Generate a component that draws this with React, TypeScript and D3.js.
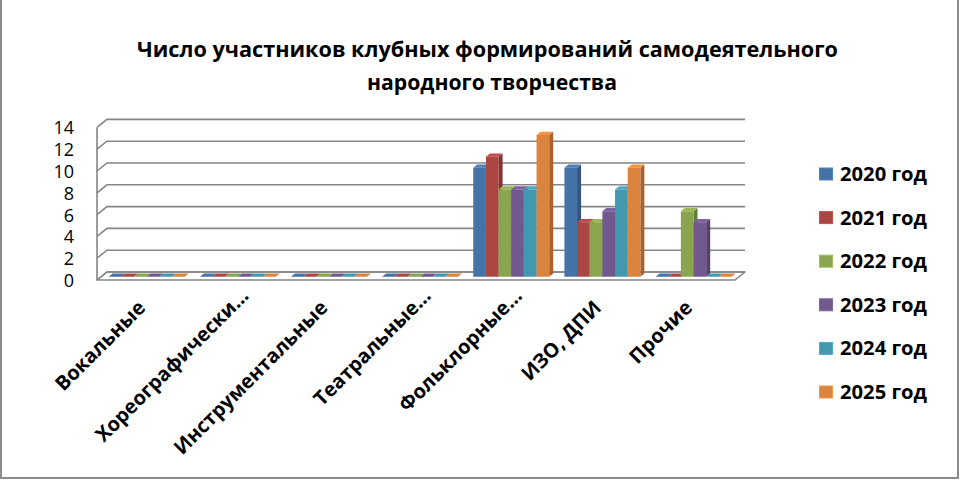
import React from "react";
import * as d3 from "d3";

const categories = [
  "Вокальные",
  "Хореографически...",
  "Инструментальные",
  "Театральные...",
  "Фольклорные...",
  "ИЗО, ДПИ",
  "Прочие",
];
const seriesNames = ["2020 год", "2021 год", "2022 год", "2023 год", "2024 год", "2025 год"];
const values2020 = [0, 0, 0, 0, 10, 10, 0];
const values2021 = [0, 0, 0, 0, 11, 5, 0];
const values2022 = [0, 0, 0, 0, 8, 5, 6];
const values2023 = [0, 0, 0, 0, 8, 6, 5];
const values2024 = [0, 0, 0, 0, 8, 8, 0];
const values2025 = [0, 0, 0, 0, 13, 10, 0];
const yTicks = [0, 2, 4, 6, 8, 10, 12, 14];
const titleLines = ["Число участников клубных формирований самодеятельного", "народного творчества"];

const seriesValues = [values2020, values2021, values2022, values2023, values2024, values2025];
const colors = ["#4572A7", "#AA4643", "#89A54E", "#71588F", "#4198AF", "#DB843D"];

const W = 960;
const H = 480;
const x0 = 97;
const x1 = 735;
const yBase = 280;
const yTop14 = 127.4;
const DX = 10; // depth offset x
const DY = 8; // depth offset y
const barF0 = 0.41;
const barF1 = 0.81;

const FONT = "'Open Sans', 'Noto Sans', sans-serif";

export default function App() {
  const xBand = d3.scaleBand<string>().domain(categories).range([x0, x1]).paddingInner(0).paddingOuter(0);
  const y = d3.scaleLinear().domain([0, 14]).range([yBase, yTop14]);
  const sub = d3
    .scaleBand<number>()
    .domain(d3.range(seriesNames.length))
    .range([0, xBand.bandwidth()])
    .paddingOuter(0.6)
    .paddingInner(0);

  const proj = (x: number, v: number, f: number): [number, number] => [x + DX * f, y(v) - DY * f];
  const pts = (p: [number, number][]) => p.map((q) => q.join(",")).join(" ");

  const gridColor = "#858585";

  const bars: React.ReactNode[] = [];
  categories.forEach((c, ci) => {
    seriesValues.forEach((vals, si) => {
      const v = vals[ci];
      const xl = (xBand(c) as number) + (sub(si) as number);
      const xr = xl + sub.bandwidth();
      const col = d3.color(colors[si])!;
      const side = col.darker(0.8).toString();
      const top = col.brighter(0.3).toString();
      const front = col.toString();
      const key = `${ci}-${si}`;
      if (v > 0) {
        bars.push(
          <polygon
            key={key + "s"}
            points={pts([proj(xr, 0, barF0), proj(xr, 0, barF1), proj(xr, v, barF1), proj(xr, v, barF0)])}
            fill={side}
          />
        );
      }
      bars.push(
        <polygon
          key={key + "t"}
          points={pts([proj(xl, v, barF0), proj(xr, v, barF0), proj(xr, v, barF1), proj(xl, v, barF1)])}
          fill={v > 0 ? top : front}
        />
      );
      if (v > 0) {
        bars.push(
          <polygon
            key={key + "f"}
            points={pts([proj(xl, 0, barF0), proj(xr, 0, barF0), proj(xr, v, barF0), proj(xl, v, barF0)])}
            fill={front}
          />
        );
      }
    });
  });

  return (
    <svg
      width={W}
      height={H}
      viewBox={`0 0 ${W} ${H}`}
      style={{ position: "absolute", left: 0, top: 0, background: "#fff" }}
      fontFamily={FONT}
    >
      <rect x={1} y={-6} width={957} height={484} fill="#fff" stroke="#8c8c8c" strokeWidth={2} />

      <text x={487.5} y={57} textAnchor="middle" fontSize={22} fontWeight="bold" fill="#000" textLength={701} lengthAdjust="spacingAndGlyphs">
        {titleLines[0]}
      </text>
      <text x={492} y={90} textAnchor="middle" fontSize={22} fontWeight="bold" fill="#000" textLength={250} lengthAdjust="spacingAndGlyphs">
        {titleLines[1]}
      </text>

      <polygon
        points={pts([proj(x0, 0, 0), proj(x1, 0, 0), proj(x1, 0, 1), proj(x0, 0, 1)])}
        fill="#fff"
        stroke={gridColor}
        strokeWidth={1.6}
        strokeLinejoin="round"
      />
      <line x1={x0} y1={y(0)} x2={x0} y2={y(14)} stroke={gridColor} strokeWidth={1.6} />
      {yTicks.map((t) => {
        const a = proj(x0, t, 0);
        const b = proj(x0, t, 1);
        const c = proj(x1, t, 1);
        return <polyline key={t} points={pts([a, b, c])} fill="none" stroke={gridColor} strokeWidth={1.6} />;
      })}

      {bars}

      {yTicks.map((t) => (
        <text key={t} x={74} y={y(t) + 7} textAnchor="end" fontSize={18} fill="#000">
          {t}
        </text>
      ))}

      {categories.map((c) => {
        const tx = (xBand(c) as number) + xBand.bandwidth() / 2 + DX * barF0;
        const ty = 309;
        const dx = c.endsWith("...") ? 17 : 0;
        return (
          <text
            key={c}
            transform={`translate(${tx},${ty}) rotate(-45)`}
            x={dx}
            textAnchor="end"
            fontSize={20}
            fontWeight="bold"
            fill="#000"
          >
            {c}
          </text>
        );
      })}

      {seriesNames.map((s, i) => {
        const cy = 174 + i * 43.6;
        return (
          <g key={s}>
            <rect
              x={819.5}
              y={cy - 6}
              width={13}
              height={12}
              fill={colors[i]}
              stroke={d3.color(colors[i])!.brighter(0.4).toString()}
              strokeWidth={1}
            />
            <text x={840} y={cy + 7} fontSize={20} fontWeight="bold" fill="#000" textLength={87} lengthAdjust="spacingAndGlyphs">
              {s}
            </text>
          </g>
        );
      })}
    </svg>
  );
}
